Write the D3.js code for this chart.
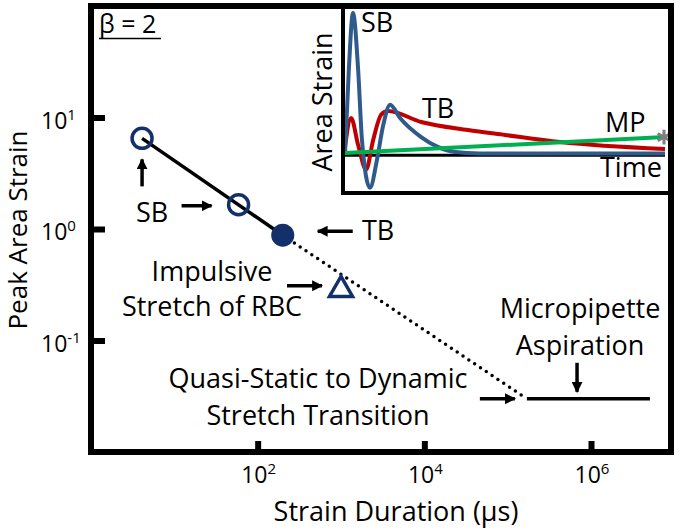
<!DOCTYPE html>
<html>
<head>
<meta charset="utf-8">
<script src="https://cdn.jsdelivr.net/npm/d3@7"></script>
<style>
  body { margin: 0; background: #fff; }
  text { font-family: "Open Sans", sans-serif; fill: #000; }
</style>
</head>
<body>
<div class="canvas"></div>
<script>
// main plot data (strain duration in us, peak area strain)
const sbDuration = [4.1, 59];
const sbStrain = [6.5, 1.65];
const tbDuration = [200];
const tbStrain = [0.88];
const rbcDuration = [1000];
const rbcStrain = [0.285];
const fitDuration = [4.1, 200];
const fitStrain = [6.5, 0.88];
const dotDuration = [200, 1.7e5];
const dotStrain = [0.88, 0.03];
const mpDuration = [1.7e5, 5.1e6];
const mpStrain = [0.03, 0.03];
const xTicks = [1e2, 1e4, 1e6];
const xTickExp = ['2', '4', '6'];
const yTicks = [0.1, 1, 10];
const yTickExp = ['-1', '0', '1'];

// inset (schematic strain vs time)
const sbTime = [0, 1.2, 2.5, 4.1, 5.3, 7.8, 10, 11.9, 14.1, 17.2, 23.8, 29, 34.4, 42, 100];
const sbValue = [0, 0.6, 1.0, 0.6, 0.1, -0.24, -0.04, 0.2, 0.35, 0.255, 0.12, 0.05, 0.014, 0.004, 0.004];
const tbTime = [0, 1.9, 4.1, 6.6, 8.8, 11.3, 13.4, 23.8, 38.4, 50, 67.2, 100];
const tbValue = [0.05, 0.255, 0.064, -0.11, 0.1, 0.28, 0.305, 0.227, 0.17, 0.135, 0.085, 0.035];
const mpTime = [0, 100];
const mpValue = [0.007, 0.12];

const width = 680, height = 530;
const frame = { left: 91, right: 671, top: 6, bottom: 452 };
const fs = 27;      // annotation / title text
const tickFs = 23;  // tick label text

const svg = d3.select('.canvas')
  .append('svg')
  .attr('width', width)
  .attr('height', height);

const x = d3.scaleLog()
  .domain([1, Math.pow(10, 6.96)])
  .range([frame.left, frame.right]);
const y = d3.scaleLog()
  .domain([1e-2, 1e2])
  .range([frame.bottom, frame.top]);

const navy = '#14306b';

// arrow head
svg.append('defs').append('marker')
  .attr('id', 'head')
  .attr('markerUnits', 'userSpaceOnUse')
  .attr('viewBox', '0 0 10 10')
  .attr('refX', 9).attr('refY', 5)
  .attr('markerWidth', 11).attr('markerHeight', 11)
  .attr('orient', 'auto')
  .append('path')
  .attr('d', 'M0,0 L10,5 L0,10 z')
  .attr('fill', '#000');

const arrow = (x1, y1, x2, y2) => {
  svg.append('line')
    .attr('x1', x1).attr('y1', y1)
    .attr('x2', x2).attr('y2', y2)
    .attr('stroke', '#000')
    .attr('stroke-width', 3.5)
    .attr('marker-end', 'url(#head)');
};

const label = (lines, cx, y0, gap, anchor = 'middle', size = fs) => {
  const t = svg.append('text')
    .attr('font-size', size)
    .attr('text-anchor', anchor);
  lines.forEach((s, i) => {
    t.append('tspan').attr('x', cx).attr('y', y0 + i * gap).text(s);
  });
  return t;
};

// axes (inward ticks)
const xAxis = d3.axisBottom(x).tickValues(xTicks).tickSize(-11).tickFormat('');
const yAxis = d3.axisLeft(y).tickValues(yTicks).tickSize(-14).tickFormat('');

const xAxisGroup = svg.append('g')
  .attr('transform', `translate(0, ${frame.bottom})`)
  .call(xAxis);
const yAxisGroup = svg.append('g')
  .attr('transform', `translate(${frame.left}, 0)`)
  .call(yAxis);
[xAxisGroup, yAxisGroup].forEach(g => {
  g.select('.domain').remove();
  g.selectAll('.tick line').attr('stroke', '#000').attr('stroke-width', 6);
});

xTicks.forEach((d, i) => {
  const t = svg.append('text')
    .attr('x', x(d) + 1).attr('y', 483)
    .attr('text-anchor', 'middle')
    .attr('font-size', tickFs);
  t.append('tspan').text('10');
  t.append('tspan').attr('dy', -9).attr('font-size', 15).text(xTickExp[i]);
});
yTicks.forEach((d, i) => {
  const t = svg.append('text')
    .attr('x', 41).attr('y', y(d) + 11)
    .attr('font-size', tickFs);
  t.append('tspan').text('10');
  t.append('tspan').attr('dy', -9).attr('font-size', 15).text(yTickExp[i]);
});

// axis titles
svg.append('text')
  .attr('x', 396).attr('y', 521)
  .attr('text-anchor', 'middle')
  .attr('font-size', fs)
  .text('Strain Duration (\u00b5s)');
svg.append('text')
  .attr('transform', 'translate(27, 230) rotate(-90)')
  .attr('text-anchor', 'middle')
  .attr('font-size', 26)
  .text('Peak Area Strain');

// fit lines
const line = d3.line().x(d => x(d[0])).y(d => y(d[1]));
svg.append('path')
  .attr('d', line(d3.zip(fitDuration, fitStrain)))
  .attr('fill', 'none').attr('stroke', '#000').attr('stroke-width', 3.5);
svg.append('path')
  .attr('d', line(d3.zip(dotDuration, dotStrain)))
  .attr('fill', 'none').attr('stroke', '#000').attr('stroke-width', 3.5)
  .attr('stroke-linecap', 'round')
  .attr('stroke-dasharray', '0 7');
svg.append('path')
  .attr('d', line(d3.zip(mpDuration, mpStrain)))
  .attr('fill', 'none').attr('stroke', '#000').attr('stroke-width', 3.5);

// markers
svg.selectAll('.sb')
  .data(d3.zip(sbDuration, sbStrain))
  .enter().append('circle')
  .attr('cx', d => x(d[0])).attr('cy', d => y(d[1]))
  .attr('r', 10)
  .attr('fill', 'none').attr('stroke', navy).attr('stroke-width', 3.5);
svg.selectAll('.tb')
  .data(d3.zip(tbDuration, tbStrain))
  .enter().append('circle')
  .attr('cx', d => x(d[0])).attr('cy', d => y(d[1]))
  .attr('r', 11.5)
  .attr('fill', navy);
const tri = d3.symbol().type(d3.symbolTriangle).size(230);
svg.selectAll('.rbc')
  .data(d3.zip(rbcDuration, rbcStrain))
  .enter().append('path')
  .attr('transform', d => `translate(${x(d[0])}, ${y(d[1])})`)
  .attr('d', tri)
  .attr('fill', 'none').attr('stroke', navy).attr('stroke-width', 3.5)
  .attr('stroke-linejoin', 'miter');

// annotations
const sb1 = [x(sbDuration[0]), y(sbStrain[0])];
const sb2 = [x(sbDuration[1]), y(sbStrain[1])];
const tb = [x(tbDuration[0]), y(tbStrain[0])];
const rbc = [x(rbcDuration[0]), y(rbcStrain[0])];
const qs = [x(mpDuration[0]), y(mpStrain[0])];
arrow(sb1[0], sb1[1] + 48, sb1[0], sb1[1] + 21);
arrow(sb2[0] - 57, sb2[1] + 1, sb2[0] - 27, sb2[1] + 1);
arrow(tb[0] + 70, tb[1] - 4, tb[0] + 35, tb[1] - 4);
arrow(rbc[0] - 54, rbc[1] - 4, rbc[0] - 19, rbc[1] - 4);
arrow(qs[0] - 47, qs[1], qs[0] - 12, qs[1]);
arrow(x(6.8e5), qs[1] - 36, x(6.8e5), qs[1] - 7);

label(['SB'], 136, 222, 0, 'start');
label(['TB'], 362, 240, 0, 'start');
label(['Impulsive', 'Stretch of RBC'], 212, 281, 35);
label(['Quasi-Static to Dynamic', 'Stretch Transition'], 318, 388, 37);
label(['Micropipette', 'Aspiration'], 580, 318, 37);

// beta label
svg.append('text')
  .attr('x', 99).attr('y', 33)
  .attr('font-size', fs - 2)
  .text('\u03b2 = 2');
svg.append('line')
  .attr('x1', 99).attr('x2', 161)
  .attr('y1', 38.5).attr('y2', 38.5)
  .attr('stroke', '#000').attr('stroke-width', 1.5);

// inset
const inset = { left: 343, right: 671, top: 6, bottom: 193 };
const ix = d3.scaleLinear().domain([0, 100]).range([345, 665]);
const iy = d3.scaleLinear().domain([0, 1]).range([154, 13]);
const iline = d3.line().x(d => ix(d[0])).y(d => iy(d[1])).curve(d3.curveMonotoneX);

const insetGroup = svg.append('g');
insetGroup.append('rect')
  .attr('x', inset.left).attr('y', inset.top)
  .attr('width', inset.right - inset.left)
  .attr('height', inset.bottom - inset.top)
  .attr('fill', '#fff');
insetGroup.append('line')
  .attr('x1', ix(0)).attr('x2', ix(100))
  .attr('y1', iy(-0.008)).attr('y2', iy(-0.008))
  .attr('stroke', '#000').attr('stroke-width', 3);
insetGroup.append('path')
  .attr('d', iline(d3.zip(tbTime, tbValue)))
  .attr('fill', 'none').attr('stroke', '#c00000').attr('stroke-width', 4);
insetGroup.append('path')
  .attr('d', iline(d3.zip(sbTime, sbValue)))
  .attr('fill', 'none').attr('stroke', '#2f5b8c').attr('stroke-width', 4);
insetGroup.append('path')
  .attr('d', iline(d3.zip(mpTime, mpValue)))
  .attr('fill', 'none').attr('stroke', '#00b050').attr('stroke-width', 4);
insetGroup.append('path')
  .attr('transform', `translate(${ix(100) - 1}, ${iy(mpValue[1])})`)
  .attr('d', d3.symbol().type(d3.symbolAsterisk).size(150))
  .attr('fill', 'none').attr('stroke', '#7f7f7f').attr('stroke-width', 3);
insetGroup.append('rect')
  .attr('x', inset.left).attr('y', inset.top)
  .attr('width', inset.right - inset.left)
  .attr('height', inset.bottom - inset.top)
  .attr('fill', 'none').attr('stroke', '#000').attr('stroke-width', 4);

label(['SB'], 361, 32, 0, 'start');
label(['TB'], 422, 118, 0, 'start');
label(['MP'], 605, 132, 0, 'start');
label(['Time'], 600, 177, 0, 'start');
svg.append('text')
  .attr('transform', 'translate(332, 102) rotate(-90)')
  .attr('text-anchor', 'middle')
  .attr('font-size', fs)
  .text('Area Strain');

// main frame
svg.append('rect')
  .attr('x', frame.left).attr('y', frame.top)
  .attr('width', frame.right - frame.left)
  .attr('height', frame.bottom - frame.top)
  .attr('fill', 'none').attr('stroke', '#000').attr('stroke-width', 6);
</script>
</body>
</html>
